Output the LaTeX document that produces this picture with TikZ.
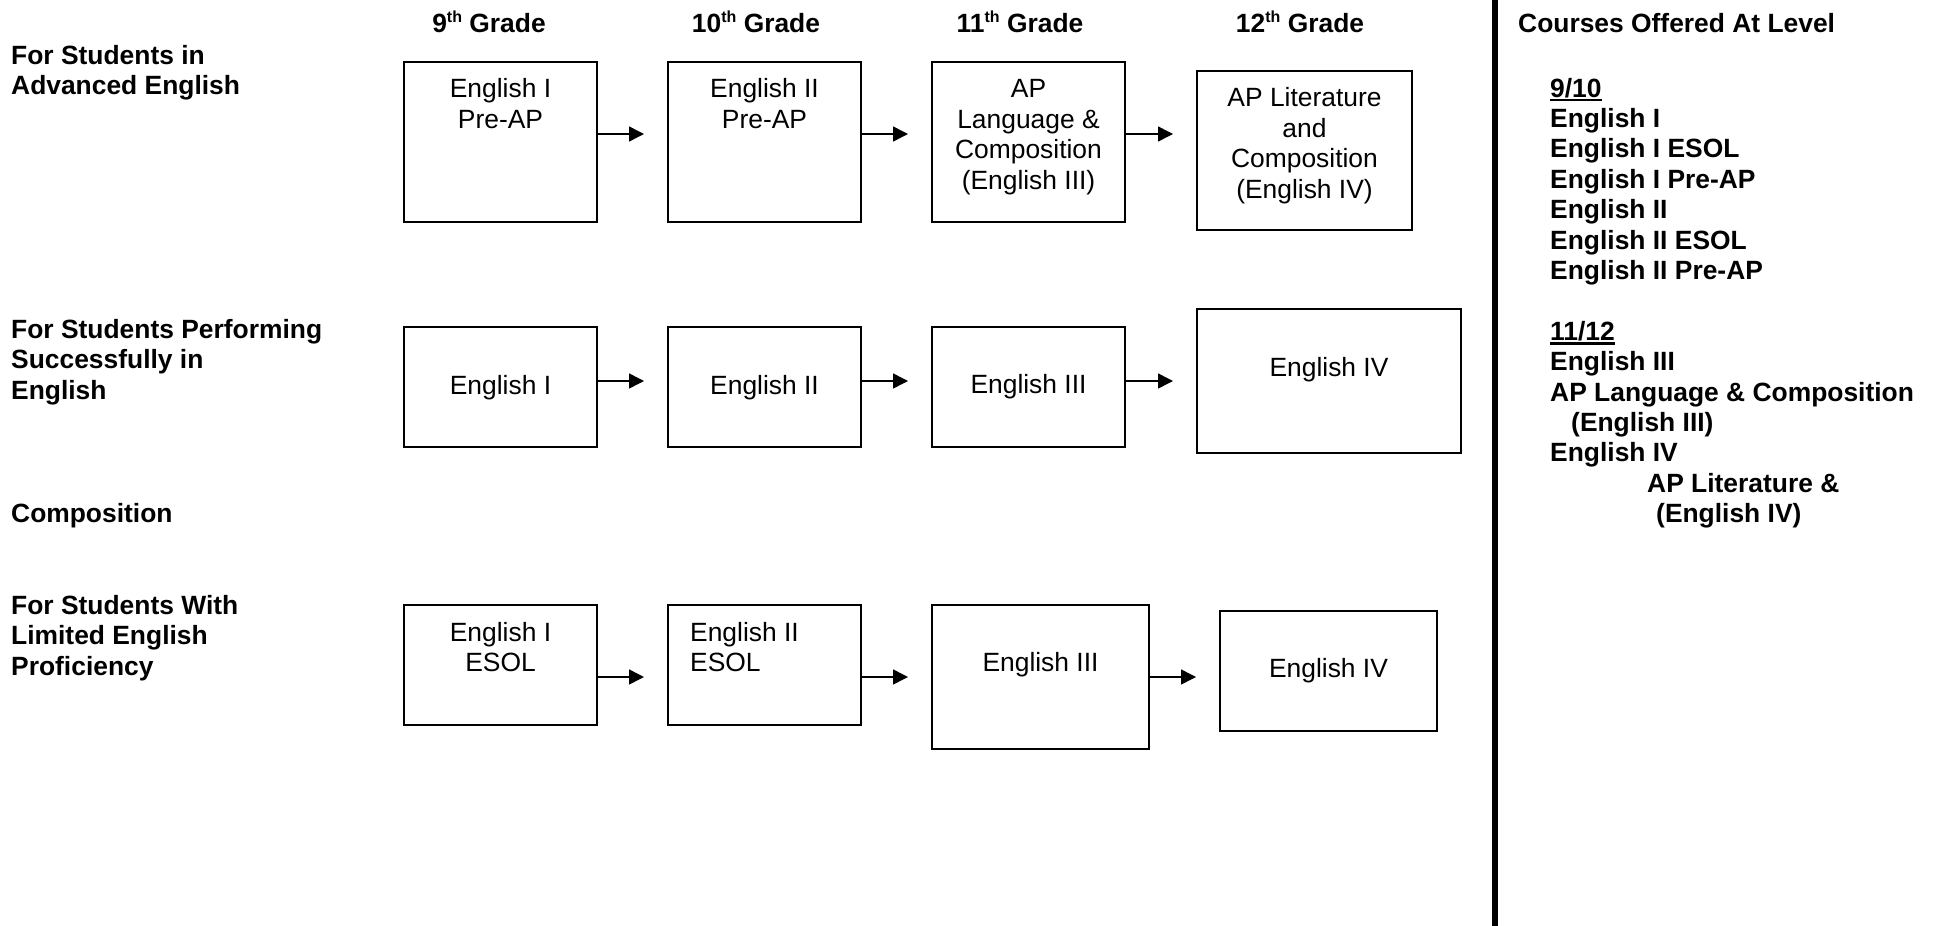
\documentclass[tikz,border=0pt]{standalone}
\usepackage{fontspec}
\setmainfont{Liberation Sans}
\usetikzlibrary{arrows.meta}
\newcommand{\thsup}{\raisebox{10pt}{\fontsize{16}{16}\selectfont th}}
\newcommand{\myul}[1]{\sbox0{#1}\rlap{\rule[-4.3pt]{\wd0}{2.6pt}}\usebox0}
\begin{document}
\begin{tikzpicture}[x=1pt,y=-1pt,
  lbl/.style={anchor=base west, inner sep=0, font=\fontsize{26.4}{30.5}\selectfont\bfseries},
  hdr/.style={anchor=base, inner sep=0, font=\fontsize{26.4}{30.5}\selectfont\bfseries},
  txt/.style={anchor=base, inner sep=0, font=\fontsize{26.4}{30.5}\selectfont},
  txtl/.style={anchor=base west, inner sep=0, font=\fontsize{26.4}{30.5}\selectfont},
  course/.style={draw, line width=1.7pt, inner sep=0, outer sep=0},
  arr/.style={line width=1.5pt, -{Triangle[length=15pt,width=15pt]}, shorten >=24pt}]
\useasboundingbox (0,0) rectangle (1936,926);

% headers
\node[hdr] (h9) at (489,32) {9\thsup\ Grade};
\node[hdr] (h10) at (756,32) {10\thsup\ Grade};
\node[hdr] (h11) at (1020,32) {11\thsup\ Grade};
\node[hdr] (h12) at (1300,32) {12\thsup\ Grade};

% row labels
\node[lbl] (l1a) at (11,64) {For Students in};
\node[lbl] (l1b) at (11,94.5) {Advanced English};
\node[lbl] (l2a) at (11,338) {For Students Performing};
\node[lbl] (l2b) at (11,368.5) {Successfully in};
\node[lbl] (l2c) at (11,399) {English};
\node[lbl] (l3) at (11,522) {Composition};
\node[lbl] (l4a) at (11,614) {For Students With};
\node[lbl] (l4b) at (11,644.5) {Limited English};
\node[lbl] (l4c) at (11,675) {Proficiency};

% row 1 boxes
\node[course, minimum width=193pt, minimum height=160pt] (a1) at (500.5,142) {};
\node[course, minimum width=193pt, minimum height=160pt] (a2) at (764.5,142) {};
\node[course, minimum width=193pt, minimum height=160pt] (a3) at (1028.5,142) {};
\node[course, minimum width=215pt, minimum height=159pt] (a4) at (1304.5,150.5) {};
\node[txt] (a1t1) at (500.5,97.5) {English I};
\node[txt] (a1t2) at (500.5,128) {Pre-AP};
\node[txt] (a2t1) at (764.5,97.5) {English II};
\node[txt] (a2t2) at (764.5,128) {Pre-AP};
\node[txt] (a3t1) at (1028.5,97.5) {AP};
\node[txt] (a3t2) at (1028.5,128) {Language \&};
\node[txt] (a3t3) at (1028.5,158.5) {Composition};
\node[txt] (a3t4) at (1028.5,189) {(English III)};
\node[txt] (a4t1) at (1304.5,106.5) {AP Literature};
\node[txt] (a4t2) at (1304.5,137) {and};
\node[txt] (a4t3) at (1304.5,167.5) {Composition};
\node[txt] (a4t4) at (1304.5,198) {(English IV)};

% row 2 boxes
\node[course, minimum width=193pt, minimum height=120pt] (b1) at (500.5,387) {};
\node[course, minimum width=193pt, minimum height=120pt] (b2) at (764.5,387) {};
\node[course, minimum width=193pt, minimum height=120pt] (b3) at (1028.5,387) {};
\node[course, minimum width=264pt, minimum height=144pt] (b4) at (1329,381) {};
\node[txt] (b1t) at (500.5,394) {English I};
\node[txt] (b2t) at (764.5,394) {English II};
\node[txt] (b3t) at (1028.5,393) {English III};
\node[txt] (b4t) at (1329,376) {English IV};

% row 3 boxes
\node[course, minimum width=193pt, minimum height=120pt] (c1) at (500.5,665) {};
\node[course, minimum width=193pt, minimum height=120pt] (c2) at (764.5,665) {};
\node[course, minimum width=217pt, minimum height=144pt] (c3) at (1040.5,677) {};
\node[course, minimum width=217pt, minimum height=120pt] (c4) at (1328.5,671) {};
\node[txt] (c1t1) at (500.5,641) {English I};
\node[txt] (c1t2) at (500.5,671) {ESOL};
\node[txtl] (c2t1) at (690,641) {English II};
\node[txtl] (c2t2) at (690,671) {ESOL};
\node[txt] (c3t) at (1040.5,671) {English III};
\node[txt] (c4t) at (1328.5,677) {English IV};

% arrow levels
\coordinate (ya) at (0,134);
\coordinate (yb) at (0,381);
\coordinate (yc) at (0,677);
\draw[arr] (a1.east |- ya) -- (a2.west |- ya);
\draw[arr] (a2.east |- ya) -- (a3.west |- ya);
\draw[arr] (a3.east |- ya) -- (a4.west |- ya);
\draw[arr] (b1.east |- yb) -- (b2.west |- yb);
\draw[arr] (b2.east |- yb) -- (b3.west |- yb);
\draw[arr] (b3.east |- yb) -- (b4.west |- yb);
\draw[arr] (c1.east |- yc) -- (c2.west |- yc);
\draw[arr] (c2.east |- yc) -- (c3.west |- yc);
\draw[arr] (c3.east |- yc) -- (c4.west |- yc);

% separator
\coordinate (septop) at (1495,0);
\coordinate (sepbot) at (1495,926);
\draw[line width=6.5pt] (septop) -- (sepbot);

% right panel
\node[lbl] (r0) at (1518,32) {Courses Offered At Level};
\node[lbl] (r1) at (1550,97) {\myul{9/10}};
\node[lbl] (r2) at (1550,127.4) {English I};
\node[lbl] (r3) at (1550,157.8) {English I ESOL};
\node[lbl] (r4) at (1550,188.2) {English I Pre-AP};
\node[lbl] (r5) at (1550,218.6) {English II};
\node[lbl] (r6) at (1550,249) {English II ESOL};
\node[lbl] (r7) at (1550,279.4) {English II Pre-AP};
\node[lbl] (r8) at (1550,340.2) {\myul{11/12}};
\node[lbl] (r9) at (1550,370.6) {English III};
\node[lbl] (r10) at (1550,401) {AP Language \& Composition};
\node[lbl] (r11) at (1571,431.4) {(English III)};
\node[lbl] (r12) at (1550,461.8) {English IV};
\node[lbl] (r13) at (1647,492.2) {AP Literature \&};
\node[lbl] (r14) at (1656,522.6) {(English IV)};
\end{tikzpicture}
\end{document}
